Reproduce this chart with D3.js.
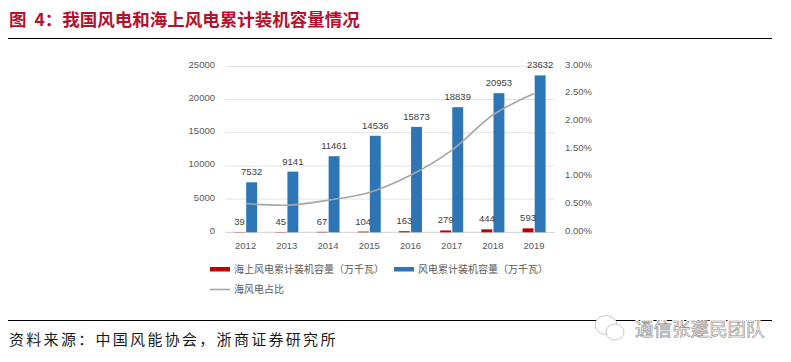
<!DOCTYPE html>
<html><head><meta charset="utf-8">
<script src="https://cdnjs.cloudflare.com/ajax/libs/d3/7.8.5/d3.min.js"></script>
<style>html,body{margin:0;padding:0;background:#fff}svg{display:block}</style>
</head><body><svg id="c" width="791" height="362"></svg>
<script>
const years=["2012","2013","2014","2015","2016","2017","2018","2019"];
const offshore=[39,45,67,104,163,279,444,593];
const total=[7532,9141,11461,14536,15873,18839,20953,23632];
const share=[0.52,0.49,0.58,0.72,1.03,1.48,2.12,2.51];
const leftTicks=[0,5000,10000,15000,20000,25000];
const rightTicks=[0,0.5,1,1.5,2,2.5,3];
const titleText="图  4\uFF1A我国风电和海上风电累计装机容量情况";
const sourceText="资料来源\uFF1A中国风能协会\uFF0C浙商证券研究所";
const legendOff="海上风电累计装机容量\uFF08万千瓦\uFF09";
const legendTotal="风电累计装机容量\uFF08万千瓦\uFF09";
const legendShare="海风电占比";
const watermark="通信张建民团队";

const svg=d3.select("#c");
const cjk="'Noto Sans CJK SC',sans-serif", lat="'Liberation Sans',sans-serif";
const x=d3.scaleBand().domain(years).range([225,554.7]);
const sub=d3.scaleBand().domain(["off","tot"]).range([-11.5,11.5]).paddingInner(0.1);
const y=d3.scaleLinear().domain([0,25000]).range([232.3,66.3]);
const yr=d3.scaleLinear().domain([0,3]).range([232.3,66.3]);

svg.append("text").attr("x",9).attr("y",26).attr("font-family",cjk).attr("font-weight",700)
  .attr("font-size",17.5).attr("fill","#b3122c").style("white-space","pre").text(titleText);
svg.append("line").attr("x1",8).attr("x2",772).attr("y1",38.5).attr("y2",38.5).attr("stroke","#000").attr("stroke-width",1);
svg.append("line").attr("x1",8).attr("x2",772).attr("y1",320.5).attr("y2",320.5).attr("stroke","#000").attr("stroke-width",1);

svg.append("g").selectAll("line").data(leftTicks).join("line")
  .attr("x1",225).attr("x2",554.7).attr("y1",d=>y(d)).attr("y2",d=>y(d))
  .attr("stroke",d=>d===0?"#d0d0d0":"#e4e4e4").attr("stroke-width",1);

const axisFont=g=>g.attr("font-family",lat).attr("font-size",9.5).attr("fill","#595959");
svg.append("g").call(axisFont).selectAll("text").data(leftTicks).join("text")
  .attr("x",215).attr("y",d=>y(d)+1.5).attr("text-anchor","end").text(d=>d);
svg.append("g").call(axisFont).selectAll("text").data(rightTicks).join("text")
  .attr("x",565).attr("y",d=>yr(d)+1.5).text(d=>d.toFixed(2)+"%");
svg.append("g").call(axisFont).selectAll("text").data(years).join("text")
  .attr("x",d=>x(d)+x.bandwidth()/2).attr("y",249).attr("text-anchor","middle").text(d=>d);

const cx=d=>x(d)+x.bandwidth()/2;
svg.append("g").selectAll("rect").data(years).join("rect")
  .attr("x",d=>cx(d)+sub("off")).attr("width",sub.bandwidth())
  .attr("y",(d,i)=>y(offshore[i])).attr("height",(d,i)=>y(0)-y(offshore[i])).attr("fill","#c00000");
svg.append("g").selectAll("rect").data(years).join("rect")
  .attr("x",d=>cx(d)+sub("tot")).attr("width",sub.bandwidth())
  .attr("y",(d,i)=>y(total[i])).attr("height",(d,i)=>y(0)-y(total[i])).attr("fill","#2e75b6");

const line=d3.line().x((d,i)=>cx(years[i])).y(d=>yr(d)).curve(d3.curveCatmullRom.alpha(0.5));
svg.append("path").attr("d",line(share)).attr("fill","none").attr("stroke","#a6a6a6").attr("stroke-width",1.6);

const labelFont=g=>g.attr("font-family",lat).attr("font-size",9.5).attr("fill","#404040").attr("text-anchor","middle");
svg.append("g").call(labelFont).selectAll("text").data(years).join("text")
  .attr("x",d=>cx(d)+sub("off")+sub.bandwidth()/2).attr("y",(d,i)=>y(offshore[i])-7).text((d,i)=>offshore[i]);
svg.append("g").call(labelFont).selectAll("text").data(years).join("text")
  .attr("x",d=>cx(d)+sub("tot")+sub.bandwidth()/2).attr("y",(d,i)=>y(total[i])-7).text((d,i)=>total[i]);

const leg=svg.append("g").attr("font-family",cjk).attr("font-size",10).attr("fill","#595959");
leg.append("rect").attr("x",210).attr("y",267).attr("width",20).attr("height",4.5).attr("fill","#c00000");
leg.append("text").attr("x",234).attr("y",273).text(legendOff);
leg.append("rect").attr("x",394).attr("y",267).attr("width",20).attr("height",4.5).attr("fill","#2e75b6");
leg.append("text").attr("x",418).attr("y",273).text(legendTotal);
leg.append("line").attr("x1",210).attr("x2",230).attr("y1",289.5).attr("y2",289.5).attr("stroke","#a6a6a6").attr("stroke-width",1.6);
leg.append("text").attr("x",234).attr("y",293).text(legendShare);

svg.append("text").attr("x",9).attr("y",345).attr("font-family",cjk).attr("font-size",15)
  .attr("letter-spacing",2.3).attr("fill","#1a1a1a").text(sourceText);

const wx=svg.append("g").attr("fill","#fff").attr("stroke","#bbb").attr("stroke-width",0.8);
wx.append("ellipse").attr("cx",606).attr("cy",325).attr("rx",11).attr("ry",9.5);
wx.append("ellipse").attr("cx",615).attr("cy",332).attr("rx",9).attr("ry",8);
const wt=svg.append("g").attr("font-family",cjk).attr("font-size",18.5);
wt.append("text").attr("x",635).attr("y",336).attr("fill","#fff").attr("stroke","#fff").attr("stroke-width",3).text(watermark);
wt.append("text").attr("x",635).attr("y",336).attr("fill","#fff").attr("stroke","#888").attr("stroke-width",0.6).text(watermark);
</script></body></html>
